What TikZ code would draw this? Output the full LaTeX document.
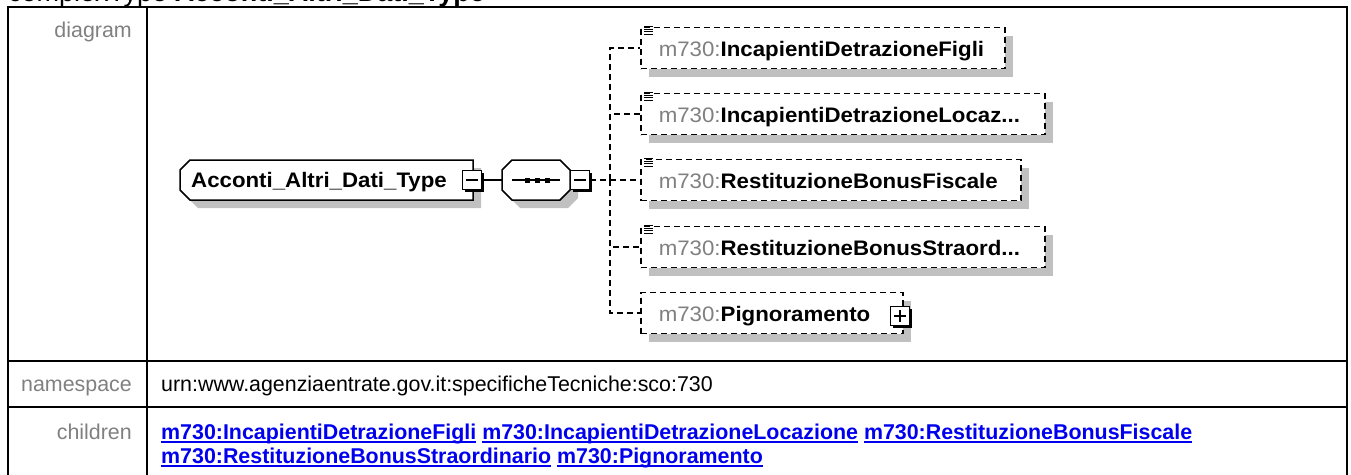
\documentclass[tikz,border=0pt]{standalone}
\usepackage{fontspec}
\setmainfont{Liberation Sans}
\newfontfamily\diagfont[FakeStretch=1.06]{Liberation Sans}
\usetikzlibrary{shadows}
\definecolor{labelgray}{RGB}{128,128,128}
\definecolor{shadowgray}{RGB}{192,192,192}
\definecolor{linkblue}{RGB}{0,0,238}
\newcommand{\childlink}[1]{\setbox0=\hbox{\textbf{#1}}\rlap{\rule[-3.5pt]{\wd0}{1.5pt}}\box0\relax}
\newcommand{\trunc}{...}

\begin{document}
\begin{tikzpicture}[x=1pt,y=-1pt,
  rowline/.style={line width=2pt},
  rowlabel/.style={anchor=base east,inner sep=0pt,text=labelgray,font=\fontsize{21.4}{26}\selectfont},
  rowvalue/.style={anchor=base west,inner sep=0pt,font=\fontsize{21.4}{26}\selectfont},
  boxshadow/.style={drop shadow={shadow xshift=8pt,shadow yshift=-8pt,fill=shadowgray,opacity=1}},
  elembox/.style={draw,line width=1.6pt,dash pattern=on 6pt off 4pt,fill=white,boxshadow,
    anchor=west,inner xsep=18pt,inner ysep=0pt,minimum height=41pt,align=left,
    text height=20pt,text depth=4pt,font=\diagfont\fontsize{21}{24}\selectfont},
  expbox/.style={draw,line width=1.4pt,fill=white,minimum size=19pt,inner sep=0pt,
    drop shadow={shadow xshift=2.5pt,shadow yshift=-2.5pt,fill=black,opacity=1}},
  minusbox/.style={expbox,path picture={
    \draw[line width=1.4pt] ([xshift=3.5pt]path picture bounding box.west) -- ([xshift=-3.5pt]path picture bounding box.east);}},
  plusbox/.style={expbox,path picture={
    \draw[line width=1.4pt] ([xshift=3.5pt]path picture bounding box.west) -- ([xshift=-3.5pt]path picture bounding box.east);
    \draw[line width=1.4pt] ([yshift=-3.5pt]path picture bounding box.north) -- ([yshift=3.5pt]path picture bounding box.south);}},
  conn/.style={line width=1.5pt},
  optconn/.style={conn,dash pattern=on 6pt off 4pt}
]
\useasboundingbox (0,0) rectangle (1351,474);

% title, cut by the page edge
\node[anchor=base west,inner sep=0pt,font=\fontsize{27}{30}\selectfont] (ttl) at (8,1.5) {complexType \textbf{Acconti\_Altri\_Dati\_Type}};

% table
\draw[rowline] (8,476) -- (8,7) -- (1347,7) -- (1347,476);
\draw[rowline] (147,7) -- (147,476);
\draw[rowline] (8,361) -- (1347,361);
\draw[rowline] (8,407) -- (1347,407);
\node[rowlabel] (ldiag) at (132,37) {diagram};
\node[rowlabel] (lns) at (132,391) {namespace};
\node[rowlabel] (lch) at (132,439) {children};
\node[rowvalue] (vns) at (161,391) {urn:www.agenziaentrate.gov.it:specificheTecniche:sco:730};
\node[rowvalue,text=linkblue] (vch1) at (161,439) {\childlink{m730:IncapientiDetrazioneFigli} \childlink{m730:IncapientiDetrazioneLocazione} \childlink{m730:RestituzioneBonusFiscale}};
\node[rowvalue,text=linkblue] (vch2) at (161,463) {\childlink{m730:RestituzioneBonusStraordinario} \childlink{m730:Pignoramento}};

% complex type
\draw[conn,fill=white,boxshadow] (180,170) -- (190,160) -- (473,160) -- (473,200) -- (190,200) -- (180,190) -- cycle;
\node[anchor=base,inner sep=0pt,font=\diagfont\fontsize{21}{24}\selectfont\bfseries] (tp) at (319,187) {Acconti\_Altri\_Dati\_Type};
\node[minusbox] (m1) at (472,180) {};

% sequence
\draw[conn,fill=white,boxshadow] (512,160) -- (560,160) -- (570,170) -- (570,190) -- (560,200) -- (512,200) -- (502,190) -- (502,170) -- cycle;
\coordinate (sqw) at (502,180);
\draw[conn] (512,180) -- (560,180);
\foreach \x in {527,537,547}{
  \fill (\x-2.5,177.5) rectangle ++(5,5);
}
\node[minusbox] (m2) at (580,180) {};
\draw[conn] (m1.east) -- (sqw);

% children
\foreach \n/\yy/\xr/\nm in {1/48/1004/IncapientiDetrazioneFigli,2/114/1044/IncapientiDetrazioneLocaz\trunc,3/180/1020/RestituzioneBonusFiscale,4/247/1044/RestituzioneBonusStraord\trunc}{
  \pgfmathsetmacro\tw{\xr-676}
  \node[elembox,text width=\tw pt] (c\n) at (640,\yy) {\mbox{\textcolor{labelgray}{m730:}\textbf{\nm}}};
  \foreach \k in {0,...,3}{
    \draw[line width=1pt] ([xshift=4pt,yshift=-2.6*\k pt]c\n.north west) -- ++(9,0);
  }
}
\node[elembox,text width=226pt] (c5) at (640,313) {\mbox{\textcolor{labelgray}{m730:}\textbf{Pignoramento}}};
\node[plusbox] (p5) at (900,316) {};

\coordinate (tr) at (610,180);
\draw[optconn] (m2.east) -- (tr);
\foreach \n in {1,...,5}{
  \draw[optconn] (tr) |- (c\n.west);
}
\end{tikzpicture}
\end{document}
